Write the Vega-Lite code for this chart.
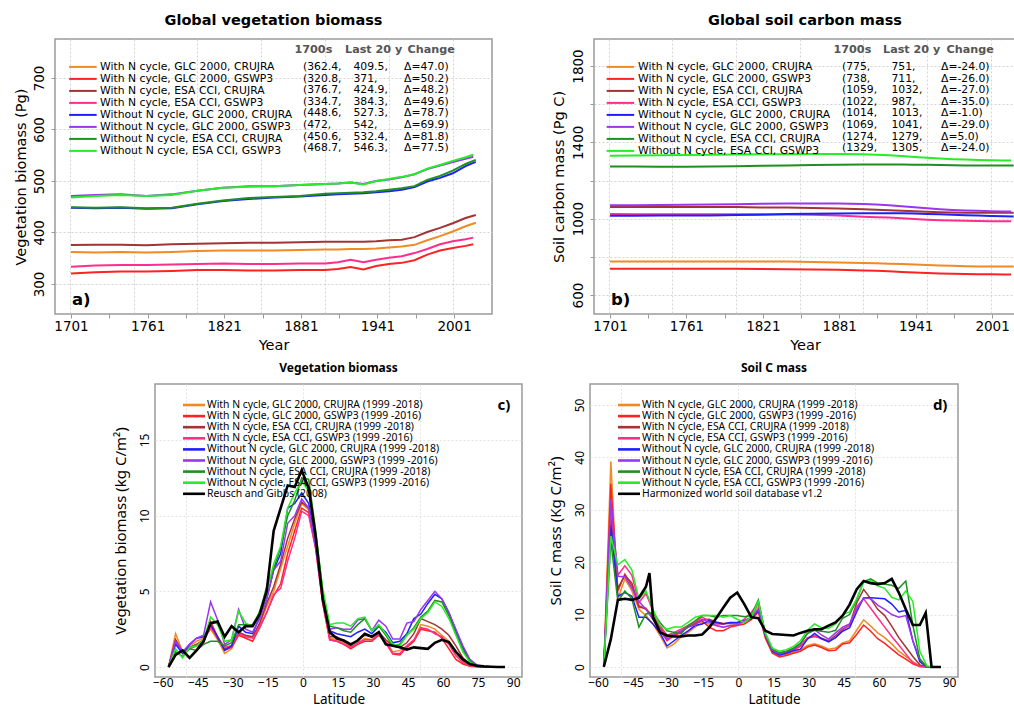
{
"$schema": "https://vega.github.io/schema/vega-lite/v6.json",
"background": "white",
"padding": {"left": 12, "top": 11, "right": 0, "bottom": 0},
"config": {
 "view": {"stroke": "#9a9a9a", "strokeWidth": 1.5},
 "axis": {"gridColor": "#d4d4d4", "gridDash": [2, 2], "gridWidth": 1, "domain": false, "tickColor": "#999999", "labelColor": "#000000", "titleColor": "#000000"},
 "title": {"color": "#000000", "anchor": "middle"}
},
"datasets": {
 "seriesTop": [
  {"s":"o","name":"With N cycle, GLC 2000, CRUJRA"},
  {"s":"r","name":"With N cycle, GLC 2000, GSWP3"},
  {"s":"b","name":"With N cycle, ESA CCI, CRUJRA"},
  {"s":"p","name":"With N cycle, ESA CCI, GSWP3"},
  {"s":"u","name":"Without N cycle, GLC 2000, CRUJRA"},
  {"s":"v","name":"Without N cycle, GLC 2000, GSWP3"},
  {"s":"g","name":"Without N cycle, ESA CCI, CRUJRA"},
  {"s":"l","name":"Without N cycle, ESA CCI, GSWP3"}
 ],
 "seriesBot": [
  {"s":"o","name":"With N cycle, GLC 2000, CRUJRA (1999 -2018)"},
  {"s":"r","name":"With N cycle, GLC 2000, GSWP3 (1999 -2016)"},
  {"s":"b","name":"With N cycle, ESA CCI, CRUJRA (1999 -2018)"},
  {"s":"p","name":"With N cycle, ESA CCI, GSWP3 (1999 -2016)"},
  {"s":"u","name":"Without N cycle, GLC 2000, CRUJRA (1999 -2018)"},
  {"s":"v","name":"Without N cycle, GLC 2000, GSWP3 (1999 -2016)"},
  {"s":"g","name":"Without N cycle, ESA CCI, CRUJRA (1999 -2018)"},
  {"s":"l","name":"Without N cycle, ESA CCI, GSWP3 (1999 -2016)"},
  {"s":"k","name":"Reusch and Gibbs (2008)"},
  {"s":"h","name":"Harmonized world soil database v1.2"}
 ],
 "vegTable": [
  {"r":1,"c":"1700s","t":"(362.4,"},{"r":1,"c":"Last 20 y","t":"409.5,"},{"r":1,"c":"Change","t":"Δ=47.0)"},
  {"r":2,"c":"1700s","t":"(320.8,"},{"r":2,"c":"Last 20 y","t":"371,"},{"r":2,"c":"Change","t":"Δ=50.2)"},
  {"r":3,"c":"1700s","t":"(376.7,"},{"r":3,"c":"Last 20 y","t":"424.9,"},{"r":3,"c":"Change","t":"Δ=48.2)"},
  {"r":4,"c":"1700s","t":"(334.7,"},{"r":4,"c":"Last 20 y","t":"384.3,"},{"r":4,"c":"Change","t":"Δ=49.6)"},
  {"r":5,"c":"1700s","t":"(448.6,"},{"r":5,"c":"Last 20 y","t":"527.3,"},{"r":5,"c":"Change","t":"Δ=78.7)"},
  {"r":6,"c":"1700s","t":"(472,"},{"r":6,"c":"Last 20 y","t":"542,"},{"r":6,"c":"Change","t":"Δ=69.9)"},
  {"r":7,"c":"1700s","t":"(450.6,"},{"r":7,"c":"Last 20 y","t":"532.4,"},{"r":7,"c":"Change","t":"Δ=81.8)"},
  {"r":8,"c":"1700s","t":"(468.7,"},{"r":8,"c":"Last 20 y","t":"546.3,"},{"r":8,"c":"Change","t":"Δ=77.5)"}
 ],
 "soilTable": [
  {"r":1,"c":"1700s","t":"(775,"},{"r":1,"c":"Last 20 y","t":"751,"},{"r":1,"c":"Change","t":"Δ=-24.0)"},
  {"r":2,"c":"1700s","t":"(738,"},{"r":2,"c":"Last 20 y","t":"711,"},{"r":2,"c":"Change","t":"Δ=-26.0)"},
  {"r":3,"c":"1700s","t":"(1059,"},{"r":3,"c":"Last 20 y","t":"1032,"},{"r":3,"c":"Change","t":"Δ=-27.0)"},
  {"r":4,"c":"1700s","t":"(1022,"},{"r":4,"c":"Last 20 y","t":"987,"},{"r":4,"c":"Change","t":"Δ=-35.0)"},
  {"r":5,"c":"1700s","t":"(1014,"},{"r":5,"c":"Last 20 y","t":"1013,"},{"r":5,"c":"Change","t":"Δ=-1.0)"},
  {"r":6,"c":"1700s","t":"(1069,"},{"r":6,"c":"Last 20 y","t":"1041,"},{"r":6,"c":"Change","t":"Δ=-29.0)"},
  {"r":7,"c":"1700s","t":"(1274,"},{"r":7,"c":"Last 20 y","t":"1279,"},{"r":7,"c":"Change","t":"Δ=5.0)"},
  {"r":8,"c":"1700s","t":"(1329,"},{"r":8,"c":"Last 20 y","t":"1305,"},{"r":8,"c":"Change","t":"Δ=-24.0)"}
 ],
 "vegTS": [
  {"s":"o","t":1701,"v":362},{"s":"o","t":1720,"v":361},{"s":"o","t":1740,"v":362},{"s":"o","t":1760,"v":361},{"s":"o","t":1780,"v":362},{"s":"o","t":1800,"v":364},{"s":"o","t":1820,"v":365},{"s":"o","t":1840,"v":365},{"s":"o","t":1860,"v":365},{"s":"o","t":1880,"v":366},{"s":"o","t":1900,"v":367},{"s":"o","t":1910,"v":367},{"s":"o","t":1920,"v":368},{"s":"o","t":1930,"v":368},{"s":"o","t":1940,"v":369},{"s":"o","t":1950,"v":371},{"s":"o","t":1960,"v":373},{"s":"o","t":1970,"v":376},{"s":"o","t":1980,"v":385},{"s":"o","t":1990,"v":393},{"s":"o","t":2000,"v":402},{"s":"o","t":2010,"v":412},{"s":"o","t":2018,"v":419},
  {"s":"r","t":1701,"v":320.5},{"s":"r","t":1720,"v":323},{"s":"r","t":1740,"v":324},{"s":"r","t":1760,"v":324},{"s":"r","t":1780,"v":325},{"s":"r","t":1800,"v":327},{"s":"r","t":1820,"v":327},{"s":"r","t":1840,"v":326},{"s":"r","t":1860,"v":326},{"s":"r","t":1880,"v":327},{"s":"r","t":1900,"v":327},{"s":"r","t":1910,"v":329},{"s":"r","t":1920,"v":333},{"s":"r","t":1930,"v":328},{"s":"r","t":1940,"v":335},{"s":"r","t":1950,"v":339},{"s":"r","t":1960,"v":341},{"s":"r","t":1970,"v":346},{"s":"r","t":1980,"v":357},{"s":"r","t":1990,"v":365},{"s":"r","t":2000,"v":370},{"s":"r","t":2010,"v":374},{"s":"r","t":2016,"v":377},
  {"s":"b","t":1701,"v":375.5},{"s":"b","t":1720,"v":376},{"s":"b","t":1740,"v":376},{"s":"b","t":1760,"v":375},{"s":"b","t":1780,"v":377},{"s":"b","t":1800,"v":378},{"s":"b","t":1820,"v":379},{"s":"b","t":1840,"v":380},{"s":"b","t":1860,"v":380},{"s":"b","t":1880,"v":381},{"s":"b","t":1900,"v":382},{"s":"b","t":1910,"v":382},{"s":"b","t":1920,"v":382},{"s":"b","t":1930,"v":382},{"s":"b","t":1940,"v":383},{"s":"b","t":1950,"v":385},{"s":"b","t":1960,"v":386},{"s":"b","t":1970,"v":391},{"s":"b","t":1980,"v":401},{"s":"b","t":1990,"v":409},{"s":"b","t":2000,"v":418},{"s":"b","t":2010,"v":428},{"s":"b","t":2018,"v":434},
  {"s":"p","t":1701,"v":333.5},{"s":"p","t":1720,"v":336},{"s":"p","t":1740,"v":337},{"s":"p","t":1760,"v":337},{"s":"p","t":1780,"v":338},{"s":"p","t":1800,"v":339},{"s":"p","t":1820,"v":340},{"s":"p","t":1840,"v":339},{"s":"p","t":1860,"v":339},{"s":"p","t":1880,"v":340},{"s":"p","t":1900,"v":340},{"s":"p","t":1910,"v":342},{"s":"p","t":1920,"v":347},{"s":"p","t":1930,"v":342},{"s":"p","t":1940,"v":347},{"s":"p","t":1950,"v":351},{"s":"p","t":1960,"v":354},{"s":"p","t":1970,"v":360},{"s":"p","t":1980,"v":368},{"s":"p","t":1990,"v":377},{"s":"p","t":2000,"v":383},{"s":"p","t":2010,"v":387},{"s":"p","t":2016,"v":390},
  {"s":"u","t":1701,"v":448},{"s":"u","t":1720,"v":447},{"s":"u","t":1740,"v":448},{"s":"u","t":1760,"v":446},{"s":"u","t":1780,"v":447},{"s":"u","t":1800,"v":455},{"s":"u","t":1820,"v":461},{"s":"u","t":1840,"v":465},{"s":"u","t":1860,"v":468},{"s":"u","t":1880,"v":470},{"s":"u","t":1900,"v":473},{"s":"u","t":1910,"v":474},{"s":"u","t":1920,"v":475},{"s":"u","t":1930,"v":476},{"s":"u","t":1940,"v":478},{"s":"u","t":1950,"v":480},{"s":"u","t":1960,"v":483},{"s":"u","t":1970,"v":488},{"s":"u","t":1980,"v":499},{"s":"u","t":1990,"v":506},{"s":"u","t":2000,"v":515},{"s":"u","t":2010,"v":529},{"s":"u","t":2018,"v":537},
  {"s":"v","t":1701,"v":471},{"s":"v","t":1720,"v":473},{"s":"v","t":1740,"v":474},{"s":"v","t":1760,"v":471},{"s":"v","t":1780,"v":474},{"s":"v","t":1800,"v":481},{"s":"v","t":1820,"v":487},{"s":"v","t":1840,"v":490},{"s":"v","t":1860,"v":490},{"s":"v","t":1880,"v":492},{"s":"v","t":1900,"v":494},{"s":"v","t":1910,"v":495},{"s":"v","t":1920,"v":497},{"s":"v","t":1930,"v":494},{"s":"v","t":1940,"v":500},{"s":"v","t":1950,"v":503},{"s":"v","t":1960,"v":507},{"s":"v","t":1970,"v":513},{"s":"v","t":1980,"v":523},{"s":"v","t":1990,"v":530},{"s":"v","t":2000,"v":537},{"s":"v","t":2010,"v":543},{"s":"v","t":2016,"v":547},
  {"s":"g","t":1701,"v":449},{"s":"g","t":1720,"v":448},{"s":"g","t":1740,"v":449},{"s":"g","t":1760,"v":447},{"s":"g","t":1780,"v":448},{"s":"g","t":1800,"v":456},{"s":"g","t":1820,"v":462},{"s":"g","t":1840,"v":467},{"s":"g","t":1860,"v":469},{"s":"g","t":1880,"v":471},{"s":"g","t":1900,"v":475},{"s":"g","t":1910,"v":476},{"s":"g","t":1920,"v":477},{"s":"g","t":1930,"v":478},{"s":"g","t":1940,"v":480},{"s":"g","t":1950,"v":483},{"s":"g","t":1960,"v":486},{"s":"g","t":1970,"v":490},{"s":"g","t":1980,"v":502},{"s":"g","t":1990,"v":510},{"s":"g","t":2000,"v":520},{"s":"g","t":2010,"v":533},{"s":"g","t":2018,"v":541},
  {"s":"l","t":1701,"v":468},{"s":"l","t":1720,"v":471},{"s":"l","t":1740,"v":473},{"s":"l","t":1760,"v":471},{"s":"l","t":1780,"v":473},{"s":"l","t":1800,"v":481},{"s":"l","t":1820,"v":487},{"s":"l","t":1840,"v":489},{"s":"l","t":1860,"v":490},{"s":"l","t":1880,"v":492},{"s":"l","t":1900,"v":494},{"s":"l","t":1910,"v":495},{"s":"l","t":1920,"v":497},{"s":"l","t":1930,"v":493},{"s":"l","t":1940,"v":500},{"s":"l","t":1950,"v":504},{"s":"l","t":1960,"v":508},{"s":"l","t":1970,"v":513},{"s":"l","t":1980,"v":524},{"s":"l","t":1990,"v":531},{"s":"l","t":2000,"v":539},{"s":"l","t":2010,"v":546},{"s":"l","t":2016,"v":551}
 ],
 "soilTS": [
  {"s":"o","t":1701,"v":775},{"s":"o","t":1720,"v":775},{"s":"o","t":1740,"v":775},{"s":"o","t":1760,"v":775},{"s":"o","t":1780,"v":775},{"s":"o","t":1800,"v":775},{"s":"o","t":1820,"v":775},{"s":"o","t":1840,"v":775},{"s":"o","t":1860,"v":773},{"s":"o","t":1880,"v":771},{"s":"o","t":1900,"v":768},{"s":"o","t":1910,"v":766},{"s":"o","t":1920,"v":764},{"s":"o","t":1930,"v":762},{"s":"o","t":1940,"v":760},{"s":"o","t":1950,"v":757},{"s":"o","t":1960,"v":755},{"s":"o","t":1970,"v":753},{"s":"o","t":1980,"v":751},{"s":"o","t":1990,"v":750},{"s":"o","t":2000,"v":750},{"s":"o","t":2010,"v":749},{"s":"o","t":2018,"v":749},
  {"s":"r","t":1701,"v":738},{"s":"r","t":1720,"v":738},{"s":"r","t":1740,"v":738},{"s":"r","t":1760,"v":737},{"s":"r","t":1780,"v":737},{"s":"r","t":1800,"v":737},{"s":"r","t":1820,"v":736},{"s":"r","t":1840,"v":735},{"s":"r","t":1860,"v":734},{"s":"r","t":1880,"v":732},{"s":"r","t":1900,"v":729},{"s":"r","t":1910,"v":727},{"s":"r","t":1920,"v":724},{"s":"r","t":1930,"v":721},{"s":"r","t":1940,"v":718},{"s":"r","t":1950,"v":715},{"s":"r","t":1960,"v":713},{"s":"r","t":1970,"v":711},{"s":"r","t":1980,"v":710},{"s":"r","t":1990,"v":709},{"s":"r","t":2000,"v":709},{"s":"r","t":2010,"v":708},{"s":"r","t":2016,"v":708},
  {"s":"b","t":1701,"v":1061},{"s":"b","t":1720,"v":1061},{"s":"b","t":1740,"v":1061},{"s":"b","t":1760,"v":1061},{"s":"b","t":1780,"v":1061},{"s":"b","t":1800,"v":1061},{"s":"b","t":1820,"v":1059},{"s":"b","t":1840,"v":1058},{"s":"b","t":1860,"v":1056},{"s":"b","t":1880,"v":1053},{"s":"b","t":1900,"v":1049},{"s":"b","t":1910,"v":1047},{"s":"b","t":1920,"v":1044},{"s":"b","t":1930,"v":1041},{"s":"b","t":1940,"v":1039},{"s":"b","t":1950,"v":1036},{"s":"b","t":1960,"v":1034},{"s":"b","t":1970,"v":1032},{"s":"b","t":1980,"v":1031},{"s":"b","t":1990,"v":1031},{"s":"b","t":2000,"v":1031},{"s":"b","t":2010,"v":1031},{"s":"b","t":2018,"v":1031},
  {"s":"p","t":1701,"v":1024},{"s":"p","t":1720,"v":1023},{"s":"p","t":1740,"v":1023},{"s":"p","t":1760,"v":1023},{"s":"p","t":1780,"v":1023},{"s":"p","t":1800,"v":1023},{"s":"p","t":1820,"v":1023},{"s":"p","t":1840,"v":1022},{"s":"p","t":1860,"v":1020},{"s":"p","t":1880,"v":1016},{"s":"p","t":1900,"v":1010},{"s":"p","t":1910,"v":1008},{"s":"p","t":1920,"v":1006},{"s":"p","t":1930,"v":1002},{"s":"p","t":1940,"v":998},{"s":"p","t":1950,"v":995},{"s":"p","t":1960,"v":992},{"s":"p","t":1970,"v":990},{"s":"p","t":1980,"v":989},{"s":"p","t":1990,"v":988},{"s":"p","t":2000,"v":987},{"s":"p","t":2010,"v":987},{"s":"p","t":2016,"v":987},
  {"s":"u","t":1701,"v":1015},{"s":"u","t":1720,"v":1015},{"s":"u","t":1740,"v":1016},{"s":"u","t":1760,"v":1016},{"s":"u","t":1780,"v":1017},{"s":"u","t":1800,"v":1019},{"s":"u","t":1820,"v":1021},{"s":"u","t":1840,"v":1024},{"s":"u","t":1860,"v":1026},{"s":"u","t":1880,"v":1027},{"s":"u","t":1900,"v":1028},{"s":"u","t":1910,"v":1028},{"s":"u","t":1920,"v":1028},{"s":"u","t":1930,"v":1028},{"s":"u","t":1940,"v":1027},{"s":"u","t":1950,"v":1025},{"s":"u","t":1960,"v":1023},{"s":"u","t":1970,"v":1020},{"s":"u","t":1980,"v":1018},{"s":"u","t":1990,"v":1016},{"s":"u","t":2000,"v":1014},{"s":"u","t":2010,"v":1013},{"s":"u","t":2018,"v":1012},
  {"s":"v","t":1701,"v":1070},{"s":"v","t":1720,"v":1071},{"s":"v","t":1740,"v":1072},{"s":"v","t":1760,"v":1073},{"s":"v","t":1780,"v":1074},{"s":"v","t":1800,"v":1076},{"s":"v","t":1820,"v":1078},{"s":"v","t":1840,"v":1079},{"s":"v","t":1860,"v":1080},{"s":"v","t":1880,"v":1079},{"s":"v","t":1900,"v":1077},{"s":"v","t":1910,"v":1074},{"s":"v","t":1920,"v":1070},{"s":"v","t":1930,"v":1065},{"s":"v","t":1940,"v":1060},{"s":"v","t":1950,"v":1055},{"s":"v","t":1960,"v":1050},{"s":"v","t":1970,"v":1046},{"s":"v","t":1980,"v":1043},{"s":"v","t":1990,"v":1041},{"s":"v","t":2000,"v":1039},{"s":"v","t":2010,"v":1038},{"s":"v","t":2016,"v":1037},
  {"s":"g","t":1701,"v":1274},{"s":"g","t":1720,"v":1273},{"s":"g","t":1740,"v":1272},{"s":"g","t":1760,"v":1272},{"s":"g","t":1780,"v":1273},{"s":"g","t":1800,"v":1275},{"s":"g","t":1820,"v":1277},{"s":"g","t":1840,"v":1279},{"s":"g","t":1860,"v":1281},{"s":"g","t":1880,"v":1283},{"s":"g","t":1900,"v":1284},{"s":"g","t":1910,"v":1284},{"s":"g","t":1920,"v":1284},{"s":"g","t":1930,"v":1284},{"s":"g","t":1940,"v":1283},{"s":"g","t":1950,"v":1282},{"s":"g","t":1960,"v":1281},{"s":"g","t":1970,"v":1280},{"s":"g","t":1980,"v":1279},{"s":"g","t":1990,"v":1279},{"s":"g","t":2000,"v":1279},{"s":"g","t":2010,"v":1279},{"s":"g","t":2018,"v":1279},
  {"s":"l","t":1701,"v":1330},{"s":"l","t":1720,"v":1331},{"s":"l","t":1740,"v":1333},{"s":"l","t":1760,"v":1334},{"s":"l","t":1780,"v":1335},{"s":"l","t":1800,"v":1336},{"s":"l","t":1820,"v":1337},{"s":"l","t":1840,"v":1338},{"s":"l","t":1860,"v":1339},{"s":"l","t":1880,"v":1339},{"s":"l","t":1900,"v":1337},{"s":"l","t":1910,"v":1335},{"s":"l","t":1920,"v":1332},{"s":"l","t":1930,"v":1328},{"s":"l","t":1940,"v":1323},{"s":"l","t":1950,"v":1319},{"s":"l","t":1960,"v":1315},{"s":"l","t":1970,"v":1312},{"s":"l","t":1980,"v":1310},{"s":"l","t":1990,"v":1308},{"s":"l","t":2000,"v":1306},{"s":"l","t":2010,"v":1305},{"s":"l","t":2016,"v":1305}
 ],
 "vegLat": [
  {"s":"o","x":-57.5,"v":0},{"s":"o","x":-54.5,"v":2.2},{"s":"o","x":-51.5,"v":1.0},{"s":"o","x":-48.5,"v":1.4},{"s":"o","x":-45.5,"v":1.7},{"s":"o","x":-42.5,"v":1.9},{"s":"o","x":-39.5,"v":2.5},{"s":"o","x":-36.5,"v":1.8},{"s":"o","x":-33.5,"v":0.9},{"s":"o","x":-30.5,"v":1.2},{"s":"o","x":-27.5,"v":2.2},{"s":"o","x":-24.5,"v":2.0},{"s":"o","x":-21.5,"v":2.0},{"s":"o","x":-18.5,"v":2.8},{"s":"o","x":-15.5,"v":4.0},{"s":"o","x":-12.5,"v":5.0},{"s":"o","x":-9.5,"v":6.5},{"s":"o","x":-6.5,"v":8.0},{"s":"o","x":-3.5,"v":9.5},{"s":"o","x":-0.5,"v":10.8},{"s":"o","x":2.5,"v":10.4},{"s":"o","x":5.5,"v":8.0},{"s":"o","x":8.5,"v":4.4},{"s":"o","x":11.5,"v":1.9},{"s":"o","x":14.5,"v":1.8},{"s":"o","x":17.5,"v":1.6},{"s":"o","x":20.5,"v":1.3},{"s":"o","x":23.5,"v":1.6},{"s":"o","x":26.5,"v":1.9},{"s":"o","x":29.5,"v":1.8},{"s":"o","x":32.5,"v":2.1},{"s":"o","x":35.5,"v":1.7},{"s":"o","x":38.5,"v":1.0},{"s":"o","x":41.5,"v":1.1},{"s":"o","x":44.5,"v":1.4},{"s":"o","x":47.5,"v":1.7},{"s":"o","x":50.5,"v":2.8},{"s":"o","x":53.5,"v":2.7},{"s":"o","x":56.5,"v":2.5},{"s":"o","x":59.5,"v":2.1},{"s":"o","x":62.5,"v":1.7},{"s":"o","x":65.5,"v":1.0},{"s":"o","x":68.5,"v":0.4},{"s":"o","x":71.5,"v":0.1},{"s":"o","x":74.5,"v":0.02},{"s":"o","x":77.5,"v":0},{"s":"o","x":80.5,"v":0},{"s":"o","x":83.5,"v":0},{"s":"o","x":86.5,"v":0},
  {"s":"r","x":-57.5,"v":0},{"s":"r","x":-54.5,"v":1.8},{"s":"r","x":-51.5,"v":0.9},{"s":"r","x":-48.5,"v":1.3},{"s":"r","x":-45.5,"v":1.4},{"s":"r","x":-42.5,"v":1.6},{"s":"r","x":-39.5,"v":3.0},{"s":"r","x":-36.5,"v":2.0},{"s":"r","x":-33.5,"v":1.1},{"s":"r","x":-30.5,"v":1.3},{"s":"r","x":-27.5,"v":2.1},{"s":"r","x":-24.5,"v":1.9},{"s":"r","x":-21.5,"v":1.7},{"s":"r","x":-18.5,"v":2.6},{"s":"r","x":-15.5,"v":3.6},{"s":"r","x":-12.5,"v":4.7},{"s":"r","x":-9.5,"v":5.5},{"s":"r","x":-6.5,"v":7.5},{"s":"r","x":-3.5,"v":9.0},{"s":"r","x":-0.5,"v":10.5},{"s":"r","x":2.5,"v":10.2},{"s":"r","x":5.5,"v":7.8},{"s":"r","x":8.5,"v":4.2},{"s":"r","x":11.5,"v":1.8},{"s":"r","x":14.5,"v":1.7},{"s":"r","x":17.5,"v":1.5},{"s":"r","x":20.5,"v":1.2},{"s":"r","x":23.5,"v":1.5},{"s":"r","x":26.5,"v":1.7},{"s":"r","x":29.5,"v":1.7},{"s":"r","x":32.5,"v":2.1},{"s":"r","x":35.5,"v":1.6},{"s":"r","x":38.5,"v":0.85},{"s":"r","x":41.5,"v":0.8},{"s":"r","x":44.5,"v":1.3},{"s":"r","x":47.5,"v":1.7},{"s":"r","x":50.5,"v":2.5},{"s":"r","x":53.5,"v":2.4},{"s":"r","x":56.5,"v":2.3},{"s":"r","x":59.5,"v":1.9},{"s":"r","x":62.5,"v":1.2},{"s":"r","x":65.5,"v":0.5},{"s":"r","x":68.5,"v":0.2},{"s":"r","x":71.5,"v":0.05},{"s":"r","x":74.5,"v":0.01},{"s":"r","x":77.5,"v":0},{"s":"r","x":80.5,"v":0},{"s":"r","x":83.5,"v":0},{"s":"r","x":86.5,"v":0},
  {"s":"b","x":-57.5,"v":0},{"s":"b","x":-54.5,"v":1.8},{"s":"b","x":-51.5,"v":1.0},{"s":"b","x":-48.5,"v":1.3},{"s":"b","x":-45.5,"v":1.5},{"s":"b","x":-42.5,"v":1.8},{"s":"b","x":-39.5,"v":2.7},{"s":"b","x":-36.5,"v":1.9},{"s":"b","x":-33.5,"v":1.2},{"s":"b","x":-30.5,"v":1.4},{"s":"b","x":-27.5,"v":2.3},{"s":"b","x":-24.5,"v":2.1},{"s":"b","x":-21.5,"v":2.0},{"s":"b","x":-18.5,"v":2.9},{"s":"b","x":-15.5,"v":4.2},{"s":"b","x":-12.5,"v":5.3},{"s":"b","x":-9.5,"v":6.8},{"s":"b","x":-6.5,"v":8.5},{"s":"b","x":-3.5,"v":9.8},{"s":"b","x":-0.5,"v":10.9},{"s":"b","x":2.5,"v":10.5},{"s":"b","x":5.5,"v":8.0},{"s":"b","x":8.5,"v":4.5},{"s":"b","x":11.5,"v":2.0},{"s":"b","x":14.5,"v":2.0},{"s":"b","x":17.5,"v":1.7},{"s":"b","x":20.5,"v":1.4},{"s":"b","x":23.5,"v":1.8},{"s":"b","x":26.5,"v":2.1},{"s":"b","x":29.5,"v":2.0},{"s":"b","x":32.5,"v":2.3},{"s":"b","x":35.5,"v":1.8},{"s":"b","x":38.5,"v":1.4},{"s":"b","x":41.5,"v":1.3},{"s":"b","x":44.5,"v":1.6},{"s":"b","x":47.5,"v":2.2},{"s":"b","x":50.5,"v":3.2},{"s":"b","x":53.5,"v":3.0},{"s":"b","x":56.5,"v":2.8},{"s":"b","x":59.5,"v":2.5},{"s":"b","x":62.5,"v":2.1},{"s":"b","x":65.5,"v":1.4},{"s":"b","x":68.5,"v":0.6},{"s":"b","x":71.5,"v":0.2},{"s":"b","x":74.5,"v":0.05},{"s":"b","x":77.5,"v":0},{"s":"b","x":80.5,"v":0},{"s":"b","x":83.5,"v":0},{"s":"b","x":86.5,"v":0},
  {"s":"p","x":-57.5,"v":0},{"s":"p","x":-54.5,"v":1.6},{"s":"p","x":-51.5,"v":0.9},{"s":"p","x":-48.5,"v":1.2},{"s":"p","x":-45.5,"v":1.4},{"s":"p","x":-42.5,"v":1.7},{"s":"p","x":-39.5,"v":2.6},{"s":"p","x":-36.5,"v":2.0},{"s":"p","x":-33.5,"v":1.3},{"s":"p","x":-30.5,"v":1.4},{"s":"p","x":-27.5,"v":2.2},{"s":"p","x":-24.5,"v":2.0},{"s":"p","x":-21.5,"v":1.9},{"s":"p","x":-18.5,"v":2.6},{"s":"p","x":-15.5,"v":3.6},{"s":"p","x":-12.5,"v":4.8},{"s":"p","x":-9.5,"v":5.2},{"s":"p","x":-6.5,"v":7.0},{"s":"p","x":-3.5,"v":8.5},{"s":"p","x":-0.5,"v":10.3},{"s":"p","x":2.5,"v":10.0},{"s":"p","x":5.5,"v":7.8},{"s":"p","x":8.5,"v":4.2},{"s":"p","x":11.5,"v":1.8},{"s":"p","x":14.5,"v":1.7},{"s":"p","x":17.5,"v":1.5},{"s":"p","x":20.5,"v":1.3},{"s":"p","x":23.5,"v":1.6},{"s":"p","x":26.5,"v":1.8},{"s":"p","x":29.5,"v":1.8},{"s":"p","x":32.5,"v":2.2},{"s":"p","x":35.5,"v":1.6},{"s":"p","x":38.5,"v":0.9},{"s":"p","x":41.5,"v":0.9},{"s":"p","x":44.5,"v":1.4},{"s":"p","x":47.5,"v":1.8},{"s":"p","x":50.5,"v":2.6},{"s":"p","x":53.5,"v":2.5},{"s":"p","x":56.5,"v":2.2},{"s":"p","x":59.5,"v":2.0},{"s":"p","x":62.5,"v":1.5},{"s":"p","x":65.5,"v":0.75},{"s":"p","x":68.5,"v":0.3},{"s":"p","x":71.5,"v":0.1},{"s":"p","x":74.5,"v":0.02},{"s":"p","x":77.5,"v":0},{"s":"p","x":80.5,"v":0},{"s":"p","x":83.5,"v":0},{"s":"p","x":86.5,"v":0},
  {"s":"u","x":-57.5,"v":0},{"s":"u","x":-54.5,"v":1.5},{"s":"u","x":-51.5,"v":0.9},{"s":"u","x":-48.5,"v":1.5},{"s":"u","x":-45.5,"v":1.9},{"s":"u","x":-42.5,"v":2.0},{"s":"u","x":-39.5,"v":2.8},{"s":"u","x":-36.5,"v":2.0},{"s":"u","x":-33.5,"v":1.1},{"s":"u","x":-30.5,"v":1.4},{"s":"u","x":-27.5,"v":2.7},{"s":"u","x":-24.5,"v":2.3},{"s":"u","x":-21.5,"v":2.2},{"s":"u","x":-18.5,"v":3.3},{"s":"u","x":-15.5,"v":4.5},{"s":"u","x":-12.5,"v":6.4},{"s":"u","x":-9.5,"v":7.5},{"s":"u","x":-6.5,"v":10.5},{"s":"u","x":-3.5,"v":10.8},{"s":"u","x":-0.5,"v":11.5},{"s":"u","x":2.5,"v":10.8},{"s":"u","x":5.5,"v":8.0},{"s":"u","x":8.5,"v":4.7},{"s":"u","x":11.5,"v":2.4},{"s":"u","x":14.5,"v":2.2},{"s":"u","x":17.5,"v":2.1},{"s":"u","x":20.5,"v":2.0},{"s":"u","x":23.5,"v":2.3},{"s":"u","x":26.5,"v":2.5},{"s":"u","x":29.5,"v":2.2},{"s":"u","x":32.5,"v":2.7},{"s":"u","x":35.5,"v":2.3},{"s":"u","x":38.5,"v":1.6},{"s":"u","x":41.5,"v":1.7},{"s":"u","x":44.5,"v":2.2},{"s":"u","x":47.5,"v":3.2},{"s":"u","x":50.5,"v":3.5},{"s":"u","x":53.5,"v":4.2},{"s":"u","x":56.5,"v":4.8},{"s":"u","x":59.5,"v":4.5},{"s":"u","x":62.5,"v":3.6},{"s":"u","x":65.5,"v":2.4},{"s":"u","x":68.5,"v":1.3},{"s":"u","x":71.5,"v":0.4},{"s":"u","x":74.5,"v":0.1},{"s":"u","x":77.5,"v":0.02},{"s":"u","x":80.5,"v":0},{"s":"u","x":83.5,"v":0},{"s":"u","x":86.5,"v":0},
  {"s":"v","x":-57.5,"v":0},{"s":"v","x":-54.5,"v":1.7},{"s":"v","x":-51.5,"v":1.0},{"s":"v","x":-48.5,"v":1.5},{"s":"v","x":-45.5,"v":1.9},{"s":"v","x":-42.5,"v":2.1},{"s":"v","x":-39.5,"v":4.3},{"s":"v","x":-36.5,"v":3.1},{"s":"v","x":-33.5,"v":1.5},{"s":"v","x":-30.5,"v":1.8},{"s":"v","x":-27.5,"v":3.8},{"s":"v","x":-24.5,"v":2.5},{"s":"v","x":-21.5,"v":2.3},{"s":"v","x":-18.5,"v":3.2},{"s":"v","x":-15.5,"v":4.5},{"s":"v","x":-12.5,"v":6.4},{"s":"v","x":-9.5,"v":7.0},{"s":"v","x":-6.5,"v":9.5},{"s":"v","x":-3.5,"v":10.0},{"s":"v","x":-0.5,"v":11.1},{"s":"v","x":2.5,"v":10.5},{"s":"v","x":5.5,"v":8.0},{"s":"v","x":8.5,"v":4.8},{"s":"v","x":11.5,"v":2.5},{"s":"v","x":14.5,"v":2.6},{"s":"v","x":17.5,"v":2.5},{"s":"v","x":20.5,"v":2.5},{"s":"v","x":23.5,"v":3.1},{"s":"v","x":26.5,"v":3.2},{"s":"v","x":29.5,"v":2.4},{"s":"v","x":32.5,"v":3.1},{"s":"v","x":35.5,"v":2.7},{"s":"v","x":38.5,"v":1.85},{"s":"v","x":41.5,"v":1.85},{"s":"v","x":44.5,"v":2.9},{"s":"v","x":47.5,"v":3.0},{"s":"v","x":50.5,"v":3.8},{"s":"v","x":53.5,"v":4.4},{"s":"v","x":56.5,"v":5.0},{"s":"v","x":59.5,"v":4.5},{"s":"v","x":62.5,"v":3.6},{"s":"v","x":65.5,"v":2.5},{"s":"v","x":68.5,"v":1.4},{"s":"v","x":71.5,"v":0.5},{"s":"v","x":74.5,"v":0.15},{"s":"v","x":77.5,"v":0.03},{"s":"v","x":80.5,"v":0},{"s":"v","x":83.5,"v":0},{"s":"v","x":86.5,"v":0},
  {"s":"g","x":-57.5,"v":0},{"s":"g","x":-54.5,"v":1.0},{"s":"g","x":-51.5,"v":0.7},{"s":"g","x":-48.5,"v":1.2},{"s":"g","x":-45.5,"v":1.1},{"s":"g","x":-42.5,"v":1.5},{"s":"g","x":-39.5,"v":1.7},{"s":"g","x":-36.5,"v":1.7},{"s":"g","x":-33.5,"v":1.4},{"s":"g","x":-30.5,"v":1.6},{"s":"g","x":-27.5,"v":2.8},{"s":"g","x":-24.5,"v":2.8},{"s":"g","x":-21.5,"v":2.8},{"s":"g","x":-18.5,"v":3.6},{"s":"g","x":-15.5,"v":5.3},{"s":"g","x":-12.5,"v":6.5},{"s":"g","x":-9.5,"v":7.9},{"s":"g","x":-6.5,"v":10.0},{"s":"g","x":-3.5,"v":11.0},{"s":"g","x":-0.5,"v":12.5},{"s":"g","x":2.5,"v":12.4},{"s":"g","x":5.5,"v":9.0},{"s":"g","x":8.5,"v":5.0},{"s":"g","x":11.5,"v":2.7},{"s":"g","x":14.5,"v":2.6},{"s":"g","x":17.5,"v":2.4},{"s":"g","x":20.5,"v":2.3},{"s":"g","x":23.5,"v":2.8},{"s":"g","x":26.5,"v":3.2},{"s":"g","x":29.5,"v":2.4},{"s":"g","x":32.5,"v":2.7},{"s":"g","x":35.5,"v":2.1},{"s":"g","x":38.5,"v":1.4},{"s":"g","x":41.5,"v":1.5},{"s":"g","x":44.5,"v":2.1},{"s":"g","x":47.5,"v":2.6},{"s":"g","x":50.5,"v":3.3},{"s":"g","x":53.5,"v":3.7},{"s":"g","x":56.5,"v":4.4},{"s":"g","x":59.5,"v":4.3},{"s":"g","x":62.5,"v":3.4},{"s":"g","x":65.5,"v":2.2},{"s":"g","x":68.5,"v":1.1},{"s":"g","x":71.5,"v":0.4},{"s":"g","x":74.5,"v":0.1},{"s":"g","x":77.5,"v":0.02},{"s":"g","x":80.5,"v":0},{"s":"g","x":83.5,"v":0},{"s":"g","x":86.5,"v":0},
  {"s":"l","x":-57.5,"v":0},{"s":"l","x":-54.5,"v":1.2},{"s":"l","x":-51.5,"v":0.6},{"s":"l","x":-48.5,"v":1.3},{"s":"l","x":-45.5,"v":1.4},{"s":"l","x":-42.5,"v":1.8},{"s":"l","x":-39.5,"v":3.3},{"s":"l","x":-36.5,"v":2.8},{"s":"l","x":-33.5,"v":1.7},{"s":"l","x":-30.5,"v":1.8},{"s":"l","x":-27.5,"v":3.7},{"s":"l","x":-24.5,"v":2.9},{"s":"l","x":-21.5,"v":2.7},{"s":"l","x":-18.5,"v":3.7},{"s":"l","x":-15.5,"v":5.0},{"s":"l","x":-12.5,"v":6.8},{"s":"l","x":-9.5,"v":8.0},{"s":"l","x":-6.5,"v":10.5},{"s":"l","x":-3.5,"v":11.5},{"s":"l","x":-0.5,"v":12.3},{"s":"l","x":2.5,"v":11.6},{"s":"l","x":5.5,"v":8.7},{"s":"l","x":8.5,"v":5.2},{"s":"l","x":11.5,"v":2.8},{"s":"l","x":14.5,"v":2.9},{"s":"l","x":17.5,"v":2.9},{"s":"l","x":20.5,"v":2.7},{"s":"l","x":23.5,"v":3.2},{"s":"l","x":26.5,"v":3.3},{"s":"l","x":29.5,"v":2.4},{"s":"l","x":32.5,"v":2.8},{"s":"l","x":35.5,"v":2.2},{"s":"l","x":38.5,"v":1.5},{"s":"l","x":41.5,"v":1.4},{"s":"l","x":44.5,"v":2.1},{"s":"l","x":47.5,"v":2.5},{"s":"l","x":50.5,"v":3.2},{"s":"l","x":53.5,"v":3.6},{"s":"l","x":56.5,"v":4.3},{"s":"l","x":59.5,"v":4.0},{"s":"l","x":62.5,"v":3.2},{"s":"l","x":65.5,"v":2.1},{"s":"l","x":68.5,"v":1.0},{"s":"l","x":71.5,"v":0.3},{"s":"l","x":74.5,"v":0.1},{"s":"l","x":77.5,"v":0.02},{"s":"l","x":80.5,"v":0},{"s":"l","x":83.5,"v":0},{"s":"l","x":86.5,"v":0},
  {"s":"k","x":-57.5,"v":0},{"s":"k","x":-54.5,"v":0.8},{"s":"k","x":-51.5,"v":1.1},{"s":"k","x":-48.5,"v":0.6},{"s":"k","x":-45.5,"v":1.1},{"s":"k","x":-42.5,"v":1.7},{"s":"k","x":-39.5,"v":2.9},{"s":"k","x":-36.5,"v":3.0},{"s":"k","x":-33.5,"v":2.0},{"s":"k","x":-30.5,"v":2.7},{"s":"k","x":-27.5,"v":2.3},{"s":"k","x":-24.5,"v":2.7},{"s":"k","x":-21.5,"v":2.7},{"s":"k","x":-18.5,"v":3.5},{"s":"k","x":-15.5,"v":5.0},{"s":"k","x":-12.5,"v":9.0},{"s":"k","x":-9.5,"v":10.5},{"s":"k","x":-6.5,"v":12.0},{"s":"k","x":-3.5,"v":11.9},{"s":"k","x":-0.5,"v":13.0},{"s":"k","x":2.5,"v":11.8},{"s":"k","x":5.5,"v":8.6},{"s":"k","x":8.5,"v":4.5},{"s":"k","x":11.5,"v":2.3},{"s":"k","x":14.5,"v":1.9},{"s":"k","x":17.5,"v":1.75},{"s":"k","x":20.5,"v":1.5},{"s":"k","x":23.5,"v":1.75},{"s":"k","x":26.5,"v":2.2},{"s":"k","x":29.5,"v":2.0},{"s":"k","x":32.5,"v":2.3},{"s":"k","x":35.5,"v":1.5},{"s":"k","x":38.5,"v":1.4},{"s":"k","x":41.5,"v":1.3},{"s":"k","x":44.5,"v":1.15},{"s":"k","x":47.5,"v":1.3},{"s":"k","x":50.5,"v":1.25},{"s":"k","x":53.5,"v":1.2},{"s":"k","x":56.5,"v":1.6},{"s":"k","x":59.5,"v":1.8},{"s":"k","x":62.5,"v":1.65},{"s":"k","x":65.5,"v":1.0},{"s":"k","x":68.5,"v":0.5},{"s":"k","x":71.5,"v":0.2},{"s":"k","x":74.5,"v":0.08},{"s":"k","x":77.5,"v":0.04},{"s":"k","x":80.5,"v":0.02},{"s":"k","x":83.5,"v":0},{"s":"k","x":86.5,"v":0}
 ],
 "soilLat": [
  {"s":"o","x":-57.5,"v":0},{"s":"o","x":-54.5,"v":39.2},{"s":"o","x":-51.5,"v":13.0},{"s":"o","x":-48.5,"v":16.8},{"s":"o","x":-45.5,"v":14.5},{"s":"o","x":-42.5,"v":11.0},{"s":"o","x":-39.5,"v":9.8},{"s":"o","x":-36.5,"v":8.2},{"s":"o","x":-33.5,"v":6.0},{"s":"o","x":-30.5,"v":3.6},{"s":"o","x":-27.5,"v":4.4},{"s":"o","x":-24.5,"v":5.7},{"s":"o","x":-21.5,"v":6.6},{"s":"o","x":-18.5,"v":7.6},{"s":"o","x":-15.5,"v":8.5},{"s":"o","x":-12.5,"v":8.2},{"s":"o","x":-9.5,"v":7.9},{"s":"o","x":-6.5,"v":7.6},{"s":"o","x":-3.5,"v":7.9},{"s":"o","x":-0.5,"v":8.2},{"s":"o","x":2.5,"v":8.5},{"s":"o","x":5.5,"v":9.2},{"s":"o","x":8.5,"v":11.5},{"s":"o","x":11.5,"v":5.8},{"s":"o","x":14.5,"v":2.8},{"s":"o","x":17.5,"v":2.1},{"s":"o","x":20.5,"v":2.4},{"s":"o","x":23.5,"v":2.8},{"s":"o","x":26.5,"v":3.3},{"s":"o","x":29.5,"v":4.1},{"s":"o","x":32.5,"v":4.4},{"s":"o","x":35.5,"v":4.0},{"s":"o","x":38.5,"v":3.4},{"s":"o","x":41.5,"v":3.6},{"s":"o","x":44.5,"v":4.6},{"s":"o","x":47.5,"v":5.0},{"s":"o","x":50.5,"v":7.0},{"s":"o","x":53.5,"v":9.0},{"s":"o","x":56.5,"v":7.8},{"s":"o","x":59.5,"v":6.5},{"s":"o","x":62.5,"v":5.6},{"s":"o","x":65.5,"v":4.4},{"s":"o","x":68.5,"v":3.0},{"s":"o","x":71.5,"v":2.0},{"s":"o","x":74.5,"v":1.0},{"s":"o","x":77.5,"v":0.2},{"s":"o","x":80.5,"v":0},{"s":"o","x":83.5,"v":0},{"s":"o","x":86.5,"v":0},
  {"s":"r","x":-57.5,"v":0},{"s":"r","x":-54.5,"v":35.0},{"s":"r","x":-51.5,"v":14.5},{"s":"r","x":-48.5,"v":17.7},{"s":"r","x":-45.5,"v":15.5},{"s":"r","x":-42.5,"v":11.4},{"s":"r","x":-39.5,"v":11.2},{"s":"r","x":-36.5,"v":9.1},{"s":"r","x":-33.5,"v":7.0},{"s":"r","x":-30.5,"v":5.0},{"s":"r","x":-27.5,"v":6.0},{"s":"r","x":-24.5,"v":6.6},{"s":"r","x":-21.5,"v":7.6},{"s":"r","x":-18.5,"v":8.2},{"s":"r","x":-15.5,"v":8.8},{"s":"r","x":-12.5,"v":7.6},{"s":"r","x":-9.5,"v":6.9},{"s":"r","x":-6.5,"v":6.9},{"s":"r","x":-3.5,"v":7.6},{"s":"r","x":-0.5,"v":7.9},{"s":"r","x":2.5,"v":8.2},{"s":"r","x":5.5,"v":9.0},{"s":"r","x":8.5,"v":10.5},{"s":"r","x":11.5,"v":5.5},{"s":"r","x":14.5,"v":2.6},{"s":"r","x":17.5,"v":1.9},{"s":"r","x":20.5,"v":2.2},{"s":"r","x":23.5,"v":2.6},{"s":"r","x":26.5,"v":3.0},{"s":"r","x":29.5,"v":3.8},{"s":"r","x":32.5,"v":4.2},{"s":"r","x":35.5,"v":3.7},{"s":"r","x":38.5,"v":3.1},{"s":"r","x":41.5,"v":3.2},{"s":"r","x":44.5,"v":4.4},{"s":"r","x":47.5,"v":4.6},{"s":"r","x":50.5,"v":6.2},{"s":"r","x":53.5,"v":8.0},{"s":"r","x":56.5,"v":6.8},{"s":"r","x":59.5,"v":5.4},{"s":"r","x":62.5,"v":4.5},{"s":"r","x":65.5,"v":3.4},{"s":"r","x":68.5,"v":2.3},{"s":"r","x":71.5,"v":1.5},{"s":"r","x":74.5,"v":0.6},{"s":"r","x":77.5,"v":0.1},{"s":"r","x":80.5,"v":0},{"s":"r","x":83.5,"v":0},{"s":"r","x":86.5,"v":0},
  {"s":"b","x":-57.5,"v":0},{"s":"b","x":-54.5,"v":29.0},{"s":"b","x":-51.5,"v":15.0},{"s":"b","x":-48.5,"v":17.5},{"s":"b","x":-45.5,"v":16.0},{"s":"b","x":-42.5,"v":11.7},{"s":"b","x":-39.5,"v":11.0},{"s":"b","x":-36.5,"v":9.8},{"s":"b","x":-33.5,"v":7.5},{"s":"b","x":-30.5,"v":5.7},{"s":"b","x":-27.5,"v":6.3},{"s":"b","x":-24.5,"v":6.8},{"s":"b","x":-21.5,"v":7.8},{"s":"b","x":-18.5,"v":8.4},{"s":"b","x":-15.5,"v":9.0},{"s":"b","x":-12.5,"v":9.1},{"s":"b","x":-9.5,"v":8.6},{"s":"b","x":-6.5,"v":8.3},{"s":"b","x":-3.5,"v":8.3},{"s":"b","x":-0.5,"v":8.5},{"s":"b","x":2.5,"v":8.8},{"s":"b","x":5.5,"v":9.5},{"s":"b","x":8.5,"v":12.3},{"s":"b","x":11.5,"v":6.2},{"s":"b","x":14.5,"v":3.1},{"s":"b","x":17.5,"v":2.4},{"s":"b","x":20.5,"v":2.8},{"s":"b","x":23.5,"v":3.3},{"s":"b","x":26.5,"v":4.0},{"s":"b","x":29.5,"v":5.5},{"s":"b","x":32.5,"v":5.8},{"s":"b","x":35.5,"v":5.5},{"s":"b","x":38.5,"v":5.0},{"s":"b","x":41.5,"v":6.0},{"s":"b","x":44.5,"v":7.2},{"s":"b","x":47.5,"v":8.0},{"s":"b","x":50.5,"v":12.2},{"s":"b","x":53.5,"v":14.8},{"s":"b","x":56.5,"v":13.0},{"s":"b","x":59.5,"v":11.0},{"s":"b","x":62.5,"v":9.8},{"s":"b","x":65.5,"v":7.8},{"s":"b","x":68.5,"v":5.6},{"s":"b","x":71.5,"v":3.8},{"s":"b","x":74.5,"v":2.0},{"s":"b","x":77.5,"v":0.4},{"s":"b","x":80.5,"v":0},{"s":"b","x":83.5,"v":0},{"s":"b","x":86.5,"v":0},
  {"s":"p","x":-57.5,"v":0},{"s":"p","x":-54.5,"v":30.5},{"s":"p","x":-51.5,"v":17.5},{"s":"p","x":-48.5,"v":19.3},{"s":"p","x":-45.5,"v":17.5},{"s":"p","x":-42.5,"v":12.3},{"s":"p","x":-39.5,"v":14.0},{"s":"p","x":-36.5,"v":10.7},{"s":"p","x":-33.5,"v":7.9},{"s":"p","x":-30.5,"v":6.0},{"s":"p","x":-27.5,"v":6.6},{"s":"p","x":-24.5,"v":7.2},{"s":"p","x":-21.5,"v":7.9},{"s":"p","x":-18.5,"v":8.5},{"s":"p","x":-15.5,"v":9.5},{"s":"p","x":-12.5,"v":8.8},{"s":"p","x":-9.5,"v":8.2},{"s":"p","x":-6.5,"v":8.2},{"s":"p","x":-3.5,"v":8.5},{"s":"p","x":-0.5,"v":8.3},{"s":"p","x":2.5,"v":9.1},{"s":"p","x":5.5,"v":10.4},{"s":"p","x":8.5,"v":12.2},{"s":"p","x":11.5,"v":6.2},{"s":"p","x":14.5,"v":3.0},{"s":"p","x":17.5,"v":2.3},{"s":"p","x":20.5,"v":2.6},{"s":"p","x":23.5,"v":3.2},{"s":"p","x":26.5,"v":3.9},{"s":"p","x":29.5,"v":5.6},{"s":"p","x":32.5,"v":6.0},{"s":"p","x":35.5,"v":5.3},{"s":"p","x":38.5,"v":4.9},{"s":"p","x":41.5,"v":5.6},{"s":"p","x":44.5,"v":7.0},{"s":"p","x":47.5,"v":8.0},{"s":"p","x":50.5,"v":11.5},{"s":"p","x":53.5,"v":13.0},{"s":"p","x":56.5,"v":11.2},{"s":"p","x":59.5,"v":9.4},{"s":"p","x":62.5,"v":7.6},{"s":"p","x":65.5,"v":5.8},{"s":"p","x":68.5,"v":4.2},{"s":"p","x":71.5,"v":2.5},{"s":"p","x":74.5,"v":0.8},{"s":"p","x":77.5,"v":0.1},{"s":"p","x":80.5,"v":0},{"s":"p","x":83.5,"v":0},{"s":"p","x":86.5,"v":0},
  {"s":"u","x":-57.5,"v":0},{"s":"u","x":-54.5,"v":27.0},{"s":"u","x":-51.5,"v":13.5},{"s":"u","x":-48.5,"v":14.2},{"s":"u","x":-45.5,"v":13.5},{"s":"u","x":-42.5,"v":9.5},{"s":"u","x":-39.5,"v":9.5},{"s":"u","x":-36.5,"v":8.2},{"s":"u","x":-33.5,"v":6.5},{"s":"u","x":-30.5,"v":4.0},{"s":"u","x":-27.5,"v":5.0},{"s":"u","x":-24.5,"v":6.0},{"s":"u","x":-21.5,"v":6.9},{"s":"u","x":-18.5,"v":7.9},{"s":"u","x":-15.5,"v":8.2},{"s":"u","x":-12.5,"v":8.8},{"s":"u","x":-9.5,"v":8.5},{"s":"u","x":-6.5,"v":8.2},{"s":"u","x":-3.5,"v":8.5},{"s":"u","x":-0.5,"v":8.5},{"s":"u","x":2.5,"v":8.8},{"s":"u","x":5.5,"v":9.2},{"s":"u","x":8.5,"v":10.8},{"s":"u","x":11.5,"v":6.0},{"s":"u","x":14.5,"v":3.0},{"s":"u","x":17.5,"v":2.3},{"s":"u","x":20.5,"v":2.6},{"s":"u","x":23.5,"v":3.1},{"s":"u","x":26.5,"v":3.4},{"s":"u","x":29.5,"v":5.3},{"s":"u","x":32.5,"v":6.4},{"s":"u","x":35.5,"v":5.4},{"s":"u","x":38.5,"v":4.8},{"s":"u","x":41.5,"v":5.6},{"s":"u","x":44.5,"v":6.8},{"s":"u","x":47.5,"v":7.5},{"s":"u","x":50.5,"v":10.5},{"s":"u","x":53.5,"v":13.2},{"s":"u","x":56.5,"v":13.2},{"s":"u","x":59.5,"v":13.1},{"s":"u","x":62.5,"v":13.0},{"s":"u","x":65.5,"v":12.0},{"s":"u","x":68.5,"v":10.5},{"s":"u","x":71.5,"v":10.8},{"s":"u","x":74.5,"v":5.0},{"s":"u","x":77.5,"v":1.0},{"s":"u","x":80.5,"v":0},{"s":"u","x":83.5,"v":0},{"s":"u","x":86.5,"v":0},
  {"s":"v","x":-57.5,"v":0},{"s":"v","x":-54.5,"v":32.0},{"s":"v","x":-51.5,"v":17.3},{"s":"v","x":-48.5,"v":17.2},{"s":"v","x":-45.5,"v":15.0},{"s":"v","x":-42.5,"v":12.5},{"s":"v","x":-39.5,"v":11.0},{"s":"v","x":-36.5,"v":9.1},{"s":"v","x":-33.5,"v":7.2},{"s":"v","x":-30.5,"v":5.3},{"s":"v","x":-27.5,"v":6.3},{"s":"v","x":-24.5,"v":6.8},{"s":"v","x":-21.5,"v":7.6},{"s":"v","x":-18.5,"v":8.0},{"s":"v","x":-15.5,"v":9.1},{"s":"v","x":-12.5,"v":8.5},{"s":"v","x":-9.5,"v":7.9},{"s":"v","x":-6.5,"v":7.6},{"s":"v","x":-3.5,"v":7.9},{"s":"v","x":-0.5,"v":8.0},{"s":"v","x":2.5,"v":8.8},{"s":"v","x":5.5,"v":9.4},{"s":"v","x":8.5,"v":11.0},{"s":"v","x":11.5,"v":6.0},{"s":"v","x":14.5,"v":3.2},{"s":"v","x":17.5,"v":2.5},{"s":"v","x":20.5,"v":2.9},{"s":"v","x":23.5,"v":3.5},{"s":"v","x":26.5,"v":4.4},{"s":"v","x":29.5,"v":6.4},{"s":"v","x":32.5,"v":7.1},{"s":"v","x":35.5,"v":6.1},{"s":"v","x":38.5,"v":5.3},{"s":"v","x":41.5,"v":6.5},{"s":"v","x":44.5,"v":7.6},{"s":"v","x":47.5,"v":8.2},{"s":"v","x":50.5,"v":11.0},{"s":"v","x":53.5,"v":13.2},{"s":"v","x":56.5,"v":13.0},{"s":"v","x":59.5,"v":11.8},{"s":"v","x":62.5,"v":11.0},{"s":"v","x":65.5,"v":10.0},{"s":"v","x":68.5,"v":9.5},{"s":"v","x":71.5,"v":9.8},{"s":"v","x":74.5,"v":5.0},{"s":"v","x":77.5,"v":1.5},{"s":"v","x":80.5,"v":0},{"s":"v","x":83.5,"v":0},{"s":"v","x":86.5,"v":0},
  {"s":"g","x":-57.5,"v":0},{"s":"g","x":-54.5,"v":24.0},{"s":"g","x":-51.5,"v":12.5},{"s":"g","x":-48.5,"v":14.5},{"s":"g","x":-45.5,"v":13.0},{"s":"g","x":-42.5,"v":7.6},{"s":"g","x":-39.5,"v":10.1},{"s":"g","x":-36.5,"v":10.4},{"s":"g","x":-33.5,"v":8.5},{"s":"g","x":-30.5,"v":6.9},{"s":"g","x":-27.5,"v":6.6},{"s":"g","x":-24.5,"v":6.3},{"s":"g","x":-21.5,"v":7.9},{"s":"g","x":-18.5,"v":8.8},{"s":"g","x":-15.5,"v":9.8},{"s":"g","x":-12.5,"v":9.8},{"s":"g","x":-9.5,"v":9.5},{"s":"g","x":-6.5,"v":9.8},{"s":"g","x":-3.5,"v":9.8},{"s":"g","x":-0.5,"v":9.8},{"s":"g","x":2.5,"v":9.6},{"s":"g","x":5.5,"v":9.8},{"s":"g","x":8.5,"v":12.8},{"s":"g","x":11.5,"v":6.3},{"s":"g","x":14.5,"v":3.4},{"s":"g","x":17.5,"v":2.7},{"s":"g","x":20.5,"v":3.0},{"s":"g","x":23.5,"v":3.6},{"s":"g","x":26.5,"v":4.5},{"s":"g","x":29.5,"v":6.4},{"s":"g","x":32.5,"v":7.0},{"s":"g","x":35.5,"v":6.8},{"s":"g","x":38.5,"v":6.6},{"s":"g","x":41.5,"v":7.0},{"s":"g","x":44.5,"v":9.3},{"s":"g","x":47.5,"v":10.0},{"s":"g","x":50.5,"v":12.8},{"s":"g","x":53.5,"v":16.3},{"s":"g","x":56.5,"v":16.8},{"s":"g","x":59.5,"v":16.0},{"s":"g","x":62.5,"v":15.8},{"s":"g","x":65.5,"v":15.6},{"s":"g","x":68.5,"v":15.0},{"s":"g","x":71.5,"v":16.4},{"s":"g","x":74.5,"v":8.0},{"s":"g","x":77.5,"v":1.5},{"s":"g","x":80.5,"v":0},{"s":"g","x":83.5,"v":0},{"s":"g","x":86.5,"v":0},
  {"s":"l","x":-57.5,"v":0},{"s":"l","x":-54.5,"v":25.0},{"s":"l","x":-51.5,"v":19.5},{"s":"l","x":-48.5,"v":20.5},{"s":"l","x":-45.5,"v":18.5},{"s":"l","x":-42.5,"v":13.0},{"s":"l","x":-39.5,"v":14.5},{"s":"l","x":-36.5,"v":11.0},{"s":"l","x":-33.5,"v":7.9},{"s":"l","x":-30.5,"v":7.2},{"s":"l","x":-27.5,"v":7.6},{"s":"l","x":-24.5,"v":7.6},{"s":"l","x":-21.5,"v":8.5},{"s":"l","x":-18.5,"v":9.5},{"s":"l","x":-15.5,"v":9.8},{"s":"l","x":-12.5,"v":9.8},{"s":"l","x":-9.5,"v":9.8},{"s":"l","x":-6.5,"v":9.5},{"s":"l","x":-3.5,"v":9.8},{"s":"l","x":-0.5,"v":9.1},{"s":"l","x":2.5,"v":8.5},{"s":"l","x":5.5,"v":9.5},{"s":"l","x":8.5,"v":12.5},{"s":"l","x":11.5,"v":6.5},{"s":"l","x":14.5,"v":3.6},{"s":"l","x":17.5,"v":3.0},{"s":"l","x":20.5,"v":3.3},{"s":"l","x":23.5,"v":3.9},{"s":"l","x":26.5,"v":5.0},{"s":"l","x":29.5,"v":7.0},{"s":"l","x":32.5,"v":8.2},{"s":"l","x":35.5,"v":7.5},{"s":"l","x":38.5,"v":7.4},{"s":"l","x":41.5,"v":8.2},{"s":"l","x":44.5,"v":10.0},{"s":"l","x":47.5,"v":10.5},{"s":"l","x":50.5,"v":13.0},{"s":"l","x":53.5,"v":16.2},{"s":"l","x":56.5,"v":16.5},{"s":"l","x":59.5,"v":15.5},{"s":"l","x":62.5,"v":15.0},{"s":"l","x":65.5,"v":13.3},{"s":"l","x":68.5,"v":12.8},{"s":"l","x":71.5,"v":14.5},{"s":"l","x":74.5,"v":12.5},{"s":"l","x":77.5,"v":3.0},{"s":"l","x":80.5,"v":0.2},{"s":"l","x":83.5,"v":0},{"s":"l","x":86.5,"v":0},
  {"s":"h","x":-57.5,"v":0},{"s":"h","x":-54.5,"v":5.3},{"s":"h","x":-51.5,"v":12.8},{"s":"h","x":-48.5,"v":13.0},{"s":"h","x":-45.5,"v":12.8},{"s":"h","x":-42.5,"v":13.2},{"s":"h","x":-39.5,"v":15.3},{"s":"h","x":-38,"v":17.9},{"s":"h","x":-36.5,"v":9.5},{"s":"h","x":-33.5,"v":6.6},{"s":"h","x":-30.5,"v":6.0},{"s":"h","x":-27.5,"v":5.8},{"s":"h","x":-24.5,"v":5.8},{"s":"h","x":-21.5,"v":6.0},{"s":"h","x":-18.5,"v":6.0},{"s":"h","x":-15.5,"v":6.2},{"s":"h","x":-12.5,"v":7.5},{"s":"h","x":-9.5,"v":9.3},{"s":"h","x":-6.5,"v":11.3},{"s":"h","x":-3.5,"v":13.2},{"s":"h","x":-0.5,"v":14.2},{"s":"h","x":2.5,"v":12.0},{"s":"h","x":5.5,"v":9.5},{"s":"h","x":8.5,"v":9.3},{"s":"h","x":11.5,"v":6.9},{"s":"h","x":14.5,"v":6.3},{"s":"h","x":17.5,"v":6.2},{"s":"h","x":20.5,"v":6.1},{"s":"h","x":23.5,"v":6.0},{"s":"h","x":26.5,"v":6.5},{"s":"h","x":29.5,"v":6.9},{"s":"h","x":32.5,"v":7.2},{"s":"h","x":35.5,"v":7.2},{"s":"h","x":38.5,"v":7.9},{"s":"h","x":41.5,"v":8.5},{"s":"h","x":44.5,"v":9.8},{"s":"h","x":47.5,"v":11.9},{"s":"h","x":50.5,"v":14.8},{"s":"h","x":53.5,"v":16.4},{"s":"h","x":56.5,"v":16.0},{"s":"h","x":59.5,"v":15.8},{"s":"h","x":62.5,"v":16.0},{"s":"h","x":65.5,"v":16.8},{"s":"h","x":68.5,"v":14.2},{"s":"h","x":71.5,"v":11.0},{"s":"h","x":74.5,"v":8.0},{"s":"h","x":77.5,"v":8.0},{"s":"h","x":80,"v":10.3},{"s":"h","x":82.5,"v":0},{"s":"h","x":86.5,"v":0}
 ]
},
"spacing": 7,
"resolve": {"scale": {"color": "independent"}, "legend": {"color": "independent"}},
"vconcat": [
 {
  "spacing": 55,
  "resolve": {"scale": {"color": "independent"}, "legend": {"color": "independent"}},
  "hconcat": [
   {
    "width": 437, "height": 275,
    "title": {"text": "Global vegetation biomass", "font": "DejaVu Sans", "fontSize": 14.5, "fontWeight": "bold", "offset": 11, "anchor": "middle"},
    "layer": [
     {
      "layer": [
       {
        "data": {"name": "vegTS"},
        "transform": [{"lookup": "s", "from": {"data": {"name": "seriesTop"}, "key": "s", "fields": ["name"]}}],
        "mark": {"type": "line", "strokeWidth": 2, "clip": true},
        "encoding": {
         "x": {"field": "t", "type": "quantitative", "scale": {"domain": [1688.5, 2030.7], "nice": false, "zero": false},
               "axis": {"orient": "bottom", "values": [1700, 1750, 1800, 1850, 1900, 1950, 2000], "grid": true, "labels": false, "ticks": false, "domain": false, "title": null, "minExtent": 0, "maxExtent": 0}},
         "y": {"field": "v", "type": "quantitative", "scale": {"domain": [241.7, 775.7], "nice": false, "zero": false},
               "axis": {"values": [300, 400, 500, 600, 700], "labelAngle": 270, "labelFont": "DejaVu Sans", "labelFontSize": 13.5, "labelPadding": 5, "ticks": true, "tickSize": 4, "grid": true, "title": "Vegetation biomass (Pg)", "titleFont": "DejaVu Sans", "titleFontSize": 14.5, "titleFontWeight": "normal", "titleX": -26.5, "minExtent": 41, "maxExtent": 41}},
         "color": {"field": "name", "type": "nominal",
                   "scale": {"domain": ["With N cycle, GLC 2000, CRUJRA", "With N cycle, GLC 2000, GSWP3", "With N cycle, ESA CCI, CRUJRA", "With N cycle, ESA CCI, GSWP3", "Without N cycle, GLC 2000, CRUJRA", "Without N cycle, GLC 2000, GSWP3", "Without N cycle, ESA CCI, CRUJRA", "Without N cycle, ESA CCI, GSWP3"],
                             "range": ["#f08a24", "#ff2222", "#a33434", "#ff2d8c", "#1f1fff", "#9b35f0", "#1f8f1f", "#27ec27"]},
                   "legend": {"orient": "none", "legendX": 22.5, "legendY": 22.5, "title": null, "padding": 0, "labelFont": "DejaVu Sans", "labelFontSize": 10.8, "labelColor": "#000000", "symbolType": "M-5,0H5", "symbolSize": 30.25, "symbolStrokeWidth": 2, "labelOffset": 11.7, "rowPadding": 0, "labelLimit": 400}}
        }
       },
       {
        "data": {"values": [{"lbl": "a)"}]},
        "mark": {"type": "text", "font": "DejaVu Sans", "fontSize": 16.5, "fontWeight": "bold", "align": "left", "baseline": "alphabetic", "color": "#000000"},
        "encoding": {
         "x": {"datum": 1701.8, "type": "quantitative",
               "axis": {"orient": "bottom", "values": [1701, 1731, 1761, 1791, 1821, 1851, 1881, 1911, 1941, 1971, 2001], "labelExpr": "(datum.value - 1701) % 60 == 0 ? datum.label : ''", "format": "d", "grid": false, "ticks": true, "tickSize": 4, "labelFont": "DejaVu Sans", "labelFontSize": 13.5, "labelPadding": 1, "labelFlush": false, "labelOverlap": false, "title": "Year", "titleFont": "DejaVu Sans", "titleFontSize": 14.5, "titleFontWeight": "normal", "titleY": 24, "minExtent": 39, "maxExtent": 39}},
         "y": {"datum": 259, "type": "quantitative"},
         "text": {"field": "lbl", "type": "nominal"}
        }
       }
      ],
      "resolve": {"axis": {"x": "independent"}}
     },
     {
      "data": {"name": "vegTable"},
      "mark": {"type": "text", "align": "left", "baseline": "middle", "font": "DejaVu Sans", "fontSize": 10.8, "color": "#000000"},
      "encoding": {
       "x": {"field": "c", "type": "nominal", "sort": ["1700s", "Last 20 y", "Change"], "scale": {"type": "point", "range": [248, 349], "padding": 0},
             "axis": {"orient": "top", "offset": -15, "domain": false, "ticks": false, "grid": false, "labelAngle": 0, "labelAlign": "left", "labelOffset": {"condition": {"test": "datum.value == 'Change'", "value": 3}, "value": -9}, "labelPadding": 0, "labelFont": "DejaVu Sans", "labelFontSize": 11.2, "labelFontWeight": "bold", "labelColor": "#555555", "title": null, "minExtent": 0, "maxExtent": 0}},
       "y": {"field": "r", "type": "ordinal", "scale": {"type": "point", "range": [28, 109.2], "padding": 0}, "axis": null},
       "text": {"field": "t", "type": "nominal"}
      }
     }
    ],
    "resolve": {"scale": {"x": "independent", "y": "independent"}}
   },
   {
    "width": 422, "height": 275,
    "title": {"text": "Global soil carbon mass", "font": "DejaVu Sans", "fontSize": 14.5, "fontWeight": "bold", "offset": 11, "anchor": "middle"},
    "layer": [
     {
      "layer": [
       {
        "data": {"name": "soilTS"},
        "transform": [{"lookup": "s", "from": {"data": {"name": "seriesTop"}, "key": "s", "fields": ["name"]}}],
        "mark": {"type": "line", "strokeWidth": 2, "clip": true},
        "encoding": {
         "x": {"field": "t", "type": "quantitative", "scale": {"domain": [1688.4, 2019.8], "nice": false, "zero": false},
               "axis": {"orient": "bottom", "values": [1700, 1750, 1800, 1850, 1900, 1950, 2000], "grid": true, "labels": false, "ticks": false, "domain": false, "title": null, "minExtent": 0, "maxExtent": 0}},
         "y": {"field": "v", "type": "quantitative", "scale": {"domain": [500.5, 1941.5], "nice": false, "zero": false},
               "axis": {"values": [600, 800, 1000, 1200, 1400, 1600, 1800], "labelExpr": "(datum.value - 600) % 400 == 0 ? datum.label : ''", "format": "d", "labelAngle": 270, "labelFont": "DejaVu Sans", "labelFontSize": 13.5, "labelPadding": 5, "ticks": true, "tickSize": 4, "grid": true, "title": "Soil carbon mass (Pg C)", "titleFont": "DejaVu Sans", "titleFontSize": 14.5, "titleFontWeight": "normal", "titleX": -28, "minExtent": 45, "maxExtent": 45}},
         "color": {"field": "name", "type": "nominal",
                   "scale": {"domain": ["With N cycle, GLC 2000, CRUJRA", "With N cycle, GLC 2000, GSWP3", "With N cycle, ESA CCI, CRUJRA", "With N cycle, ESA CCI, GSWP3", "Without N cycle, GLC 2000, CRUJRA", "Without N cycle, GLC 2000, GSWP3", "Without N cycle, ESA CCI, CRUJRA", "Without N cycle, ESA CCI, GSWP3"],
                             "range": ["#f08a24", "#ff2222", "#a33434", "#ff2d8c", "#1f1fff", "#9b35f0", "#1f8f1f", "#27ec27"]},
                   "legend": {"orient": "none", "legendX": 21, "legendY": 22.5, "title": null, "padding": 0, "labelFont": "DejaVu Sans", "labelFontSize": 10.8, "labelColor": "#000000", "symbolType": "M-5,0H5", "symbolSize": 30.25, "symbolStrokeWidth": 2, "labelOffset": 12.2, "rowPadding": 0, "labelLimit": 400}}
        }
       },
       {
        "data": {"values": [{"lbl": "b)"}]},
        "mark": {"type": "text", "font": "DejaVu Sans", "fontSize": 16.5, "fontWeight": "bold", "align": "left", "baseline": "alphabetic", "color": "#000000"},
        "encoding": {
         "x": {"datum": 1701.8, "type": "quantitative",
               "axis": {"orient": "bottom", "values": [1701, 1731, 1761, 1791, 1821, 1851, 1881, 1911, 1941, 1971, 2001], "labelExpr": "(datum.value - 1701) % 60 == 0 ? datum.label : ''", "format": "d", "grid": false, "ticks": true, "tickSize": 4, "labelFont": "DejaVu Sans", "labelFontSize": 13.5, "labelPadding": 1, "labelFlush": false, "labelOverlap": false, "title": "Year", "titleFont": "DejaVu Sans", "titleFontSize": 14.5, "titleFontWeight": "normal", "titleY": 24, "minExtent": 39, "maxExtent": 39}},
         "y": {"datum": 547.7, "type": "quantitative"},
         "text": {"field": "lbl", "type": "nominal"}
        }
       }
      ],
      "resolve": {"axis": {"x": "independent"}}
     },
     {
      "data": {"name": "soilTable"},
      "mark": {"type": "text", "align": "left", "baseline": "middle", "font": "DejaVu Sans", "fontSize": 10.8, "color": "#000000"},
      "encoding": {
       "x": {"field": "c", "type": "nominal", "sort": ["1700s", "Last 20 y", "Change"], "scale": {"type": "point", "range": [248, 347], "padding": 0},
             "axis": {"orient": "top", "offset": -15, "domain": false, "ticks": false, "grid": false, "labelAngle": 0, "labelAlign": "left", "labelOffset": {"condition": {"test": "datum.value == 'Change'", "value": 5}, "value": -9}, "labelPadding": 0, "labelFont": "DejaVu Sans", "labelFontSize": 11.2, "labelFontWeight": "bold", "labelColor": "#555555", "title": null, "minExtent": 0, "maxExtent": 0}},
       "y": {"field": "r", "type": "ordinal", "scale": {"type": "point", "range": [28, 109.2], "padding": 0}, "axis": null},
       "text": {"field": "t", "type": "nominal"}
      }
     }
    ],
    "resolve": {"scale": {"x": "independent", "y": "independent"}}
   }
  ]
 },
 {
  "spacing": 24,
  "resolve": {"scale": {"color": "independent"}, "legend": {"color": "independent"}},
  "hconcat": [
   {
    "width": 33, "height": 293,
    "view": {"stroke": null},
    "data": {"values": []},
    "mark": {"type": "point", "opacity": 0}
   },
   {
    "width": 367, "height": 293,
    "title": {"text": "Vegetation biomass", "font": "Noto Sans", "fontSize": 12, "fontWeight": "bold", "offset": 9, "anchor": "middle"},
    "layer": [
     {
      "data": {"name": "vegLat"},
      "transform": [{"lookup": "s", "from": {"data": {"name": "seriesBot"}, "key": "s", "fields": ["name"]}}, {"filter": "datum.s != 'k'"}],
      "mark": {"type": "line", "strokeWidth": 1.5, "clip": true},
      "encoding": {
       "x": {"field": "x", "type": "quantitative", "scale": {"domain": [-63.3, 93.8], "nice": false, "zero": false},
             "axis": {"orient": "bottom", "values": [-50, 0, 50], "grid": true, "gridColor": "#e2e2e2", "labels": false, "ticks": false, "domain": false, "title": null, "minExtent": 0, "maxExtent": 0}},
       "y": {"field": "v", "type": "quantitative", "scale": {"domain": [-0.66, 18.7], "nice": false, "zero": false},
             "axis": {"values": [0, 5, 10, 15], "labelAngle": 270, "labelFont": "Noto Sans", "labelFontSize": 12, "labelPadding": 4, "ticks": false, "grid": true, "gridColor": "#e2e2e2", "title": "Vegetation biomass (kg C/m²)", "titleFont": "Noto Sans", "titleFontSize": 15, "titleFontWeight": "normal", "titleX": -27, "minExtent": 42, "maxExtent": 42}},
       "color": {"field": "name", "type": "nominal",
                 "scale": {"domain": ["With N cycle, GLC 2000, CRUJRA (1999 -2018)", "With N cycle, GLC 2000, GSWP3 (1999 -2016)", "With N cycle, ESA CCI, CRUJRA (1999 -2018)", "With N cycle, ESA CCI, GSWP3 (1999 -2016)", "Without N cycle, GLC 2000, CRUJRA (1999 -2018)", "Without N cycle, GLC 2000, GSWP3 (1999 -2016)", "Without N cycle, ESA CCI, CRUJRA (1999 -2018)", "Without N cycle, ESA CCI, GSWP3 (1999 -2016)", "Reusch and Gibbs (2008)"],
                           "range": ["#f08a24", "#ff2222", "#a33434", "#ff2d8c", "#1f1fff", "#9b35f0", "#1f8f1f", "#27ec27", "#000000"]},
                 "legend": {"orient": "none", "legendX": 33.8, "legendY": 15.8, "title": null, "padding": 0, "labelFont": "Noto Sans", "labelFontSize": 10.4, "labelColor": "#000000", "symbolType": "M-4,0H4", "symbolSize": 30.25, "symbolStrokeWidth": 2.6, "labelOffset": 7.8, "rowPadding": 0.1, "labelLimit": 400}}
      }
     },
     {
      "data": {"name": "vegLat"},
      "transform": [{"lookup": "s", "from": {"data": {"name": "seriesBot"}, "key": "s", "fields": ["name"]}}, {"filter": "datum.s == 'k'"}],
      "mark": {"type": "line", "strokeWidth": 2.6, "clip": true},
      "encoding": {
       "x": {"field": "x", "type": "quantitative", "axis": null},
       "y": {"field": "v", "type": "quantitative"},
       "color": {"field": "name", "type": "nominal",
                 "scale": {"domain": ["With N cycle, GLC 2000, CRUJRA (1999 -2018)", "With N cycle, GLC 2000, GSWP3 (1999 -2016)", "With N cycle, ESA CCI, CRUJRA (1999 -2018)", "With N cycle, ESA CCI, GSWP3 (1999 -2016)", "Without N cycle, GLC 2000, CRUJRA (1999 -2018)", "Without N cycle, GLC 2000, GSWP3 (1999 -2016)", "Without N cycle, ESA CCI, CRUJRA (1999 -2018)", "Without N cycle, ESA CCI, GSWP3 (1999 -2016)", "Reusch and Gibbs (2008)"],
                           "range": ["#f08a24", "#ff2222", "#a33434", "#ff2d8c", "#1f1fff", "#9b35f0", "#1f8f1f", "#27ec27", "#000000"]}}
      }
     },
     {
      "data": {"values": [{"lbl": "c)"}]},
      "mark": {"type": "text", "font": "Noto Sans", "fontSize": 15, "fontWeight": "bold", "align": "right", "baseline": "middle", "color": "#000000"},
      "encoding": {
       "x": {"datum": 88.8, "type": "quantitative",
             "axis": {"orient": "bottom", "values": [-60, -45, -30, -15, 0, 15, 30, 45, 60, 75, 90], "grid": false, "ticks": false, "labelFont": "Noto Sans", "labelFontSize": 12, "labelPadding": 0.5, "labelFlush": false, "labelOverlap": false, "title": "Latitude", "titleFont": "Noto Sans", "titleFontSize": 13.5, "titleFontWeight": "normal", "titleY": 15.5, "minExtent": 31, "maxExtent": 31}},
       "y": {"datum": 17.28, "type": "quantitative"},
       "text": {"field": "lbl", "type": "nominal"}
      }
     }
    ],
    "resolve": {"axis": {"x": "independent"}}
   },
   {
    "width": 368, "height": 293,
    "title": {"text": "Soil C mass", "font": "Noto Sans", "fontSize": 12, "fontWeight": "bold", "offset": 9, "anchor": "middle"},
    "layer": [
     {
      "data": {"name": "soilLat"},
      "transform": [{"lookup": "s", "from": {"data": {"name": "seriesBot"}, "key": "s", "fields": ["name"]}}, {"filter": "datum.s != 'h'"}],
      "mark": {"type": "line", "strokeWidth": 1.5, "clip": true},
      "encoding": {
       "x": {"field": "x", "type": "quantitative", "scale": {"domain": [-63.4, 93.8], "nice": false, "zero": false},
             "axis": {"orient": "bottom", "values": [-50, 0, 50], "grid": true, "gridColor": "#e2e2e2", "labels": false, "ticks": false, "domain": false, "title": null, "minExtent": 0, "maxExtent": 0}},
       "y": {"field": "v", "type": "quantitative", "scale": {"domain": [-1.92, 54.0], "nice": false, "zero": false},
             "axis": {"values": [0, 10, 20, 30, 40, 50], "labelAngle": 270, "labelFont": "Noto Sans", "labelFontSize": 12, "labelPadding": 4, "ticks": false, "grid": true, "gridColor": "#e2e2e2", "title": "Soil C mass  (Kg C/m²)", "titleFont": "Noto Sans", "titleFontSize": 15, "titleFontWeight": "normal", "titleX": -27, "minExtent": 42, "maxExtent": 42}},
       "color": {"field": "name", "type": "nominal",
                 "scale": {"domain": ["With N cycle, GLC 2000, CRUJRA (1999 -2018)", "With N cycle, GLC 2000, GSWP3 (1999 -2016)", "With N cycle, ESA CCI, CRUJRA (1999 -2018)", "With N cycle, ESA CCI, GSWP3 (1999 -2016)", "Without N cycle, GLC 2000, CRUJRA (1999 -2018)", "Without N cycle, GLC 2000, GSWP3 (1999 -2016)", "Without N cycle, ESA CCI, CRUJRA (1999 -2018)", "Without N cycle, ESA CCI, GSWP3 (1999 -2016)", "Harmonized world soil database v1.2"],
                           "range": ["#f08a24", "#ff2222", "#a33434", "#ff2d8c", "#1f1fff", "#9b35f0", "#1f8f1f", "#27ec27", "#000000"]},
                 "legend": {"orient": "none", "legendX": 33.8, "legendY": 15.8, "title": null, "padding": 0, "labelFont": "Noto Sans", "labelFontSize": 10.4, "labelColor": "#000000", "symbolType": "M-4,0H4", "symbolSize": 30.25, "symbolStrokeWidth": 2.6, "labelOffset": 7.8, "rowPadding": 0.1, "labelLimit": 400}}
      }
     },
     {
      "data": {"name": "soilLat"},
      "transform": [{"lookup": "s", "from": {"data": {"name": "seriesBot"}, "key": "s", "fields": ["name"]}}, {"filter": "datum.s == 'h'"}],
      "mark": {"type": "line", "strokeWidth": 2.6, "clip": true},
      "encoding": {
       "x": {"field": "x", "type": "quantitative", "axis": null},
       "y": {"field": "v", "type": "quantitative"},
       "color": {"field": "name", "type": "nominal",
                 "scale": {"domain": ["With N cycle, GLC 2000, CRUJRA (1999 -2018)", "With N cycle, GLC 2000, GSWP3 (1999 -2016)", "With N cycle, ESA CCI, CRUJRA (1999 -2018)", "With N cycle, ESA CCI, GSWP3 (1999 -2016)", "Without N cycle, GLC 2000, CRUJRA (1999 -2018)", "Without N cycle, GLC 2000, GSWP3 (1999 -2016)", "Without N cycle, ESA CCI, CRUJRA (1999 -2018)", "Without N cycle, ESA CCI, GSWP3 (1999 -2016)", "Harmonized world soil database v1.2"],
                           "range": ["#f08a24", "#ff2222", "#a33434", "#ff2d8c", "#1f1fff", "#9b35f0", "#1f8f1f", "#27ec27", "#000000"]}}
      }
     },
     {
      "data": {"values": [{"lbl": "d)"}]},
      "mark": {"type": "text", "font": "Noto Sans", "fontSize": 15, "fontWeight": "bold", "align": "right", "baseline": "middle", "color": "#000000"},
      "encoding": {
       "x": {"datum": 89.3, "type": "quantitative",
             "axis": {"orient": "bottom", "values": [-60, -45, -30, -15, 0, 15, 30, 45, 60, 75, 90], "grid": false, "ticks": false, "labelFont": "Noto Sans", "labelFontSize": 12, "labelPadding": 0.5, "labelFlush": false, "labelOverlap": false, "title": "Latitude", "titleFont": "Noto Sans", "titleFontSize": 13.5, "titleFontWeight": "normal", "titleY": 15.5, "minExtent": 31, "maxExtent": 31}},
       "y": {"datum": 49.9, "type": "quantitative"},
       "text": {"field": "lbl", "type": "nominal"}
      }
     }
    ],
    "resolve": {"axis": {"x": "independent"}}
   }
  ]
 }
]
}
